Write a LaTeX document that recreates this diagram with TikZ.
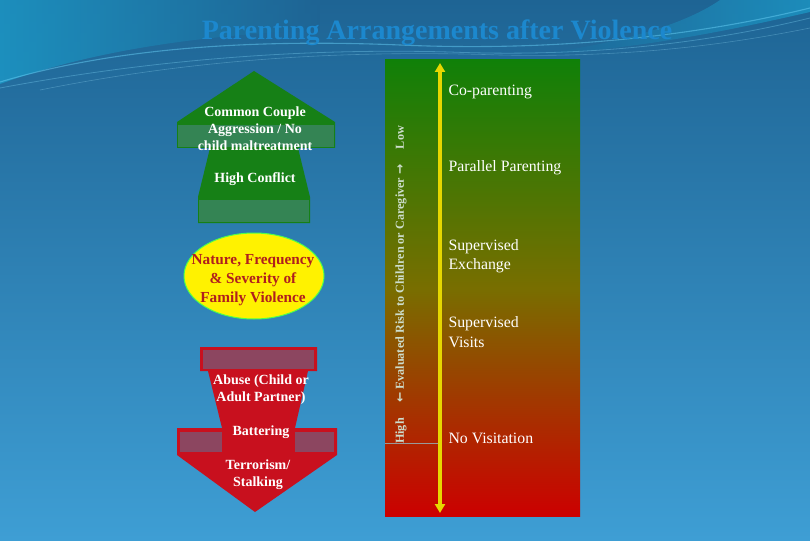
\documentclass[tikz,border=0pt]{standalone}
\usepackage{fontspec}
\setmainfont{Liberation Serif}
\newfontfamily\arrowfont{DejaVu Sans}
\usetikzlibrary{arrows.meta,shapes.geometric}
\definecolor{bgtop}{RGB}{30,100,148}
\definecolor{bgbot}{RGB}{62,158,212}
\definecolor{bgteal}{RGB}{28,150,196}
\definecolor{titleblue}{RGB}{28,136,206}
\definecolor{arrgreen}{RGB}{22,128,22}
\definecolor{bandgreen}{RGB}{52,132,84}
\definecolor{arrred}{RGB}{200,16,30}
\definecolor{bandred}{RGB}{140,70,96}
\definecolor{panelgreen}{RGB}{16,128,8}
\definecolor{panelolive}{RGB}{120,110,0}
\definecolor{panelred}{RGB}{204,0,0}
\definecolor{ellred}{RGB}{176,30,30}
\definecolor{risktext}{RGB}{205,222,205}
\definecolor{arryellow}{RGB}{230,215,0}
\tikzset{
  lbl/.style={text=white,align=center,font=\fontsize{14}{17}\selectfont\bfseries},
  rlbl/.style={text=white,align=left,anchor=west,font=\fontsize{15.8}{19.5}\selectfont},
}
\begin{document}
\begin{tikzpicture}[x=1pt,y=-1pt]
\useasboundingbox (0,0) rectangle (810,540);
% background
\shade[top color=bgtop,bottom color=bgbot] (0,0) rectangle (810,540);
\shade[left color=bgteal,right color=bgtop,opacity=0.85] (0,0) -- (0,84) .. controls (80,55) and (180,36) .. (320,30) -- (320,0) -- cycle;
\shade[left color=bgtop,right color=bgteal,opacity=0.8] (520,56) .. controls (640,50) and (740,28) .. (810,12) -- (810,0) -- (720,0) .. controls (680,28) and (600,48) .. (520,56) -- cycle;
\draw[cyan!60!white,opacity=0.5,line width=1.1] (0,82) .. controls (100,52) and (230,38) .. (400,45) .. controls (560,52) and (700,35) .. (810,8);
\draw[cyan!50!white,opacity=0.35,line width=0.8] (0,88) .. controls (150,60) and (300,48) .. (450,52) .. controls (600,58) and (720,40) .. (810,18);
\draw[cyan!40!white,opacity=0.3,line width=0.6] (40,90) .. controls (200,58) and (350,50) .. (500,55) .. controls (640,58) and (740,42) .. (810,28);
% title
\node[text=titleblue,font=\fontsize{28}{30}\selectfont\bfseries] (title) at (437,33) {Parenting Arrangements after Violence};
% green up arrow
\fill[arrgreen] (254,71) -- (335,122) -- (335,148) -- (298,148) -- (310,197) -- (310,223) -- (198,223) -- (198,197) -- (210,148) -- (177,148) -- (177,122) -- cycle;
\fill[bandgreen] (178,125) rectangle (334,147);
\fill[bandgreen] (199,200) rectangle (309,222);
\node[lbl] (cca) at (255,129) {Common Couple\\Aggression / No\\child maltreatment};
\node[lbl] (hc) at (255,179) {High Conflict};
% ellipse
\filldraw[draw=green!70!white,line width=1,fill=yellow] (254,276) ellipse [x radius=70,y radius=43];
\node[text=ellred,align=center,font=\fontsize{15.3}{19}\selectfont\bfseries] (nfs) at (253,280) {Nature, Frequency\\\& Severity of\\Family Violence};
% red down arrow
\fill[arrred] (200,347) -- (317,347) -- (317,371) -- (308,371) -- (295,428) -- (337,428) -- (337,455) -- (255,512) -- (177,455) -- (177,428) -- (222,428) -- (208,371) -- (200,371) -- cycle;
\fill[bandred] (203,350) rectangle (314,369);
\fill[bandred] (180,432) rectangle (222,452);
\fill[bandred] (295,432) rectangle (334,452);
\node[lbl] (abuse) at (261,390) {Abuse (Child or\\Adult Partner)};
\node[lbl] (batt) at (261,432) {Battering};
\node[lbl] (terr) at (258,475) {Terrorism/\\Stalking};
% right panel
\shade[top color=panelgreen,bottom color=panelred,middle color=panelolive] (385,60) rectangle (580,516);
\coordinate (hl) at (385,443);
\coordinate (hr) at (440,443);
\draw[gray!80!white,line width=0.8] (hl) -- (hr);
\coordinate (atop) at (440,63);
\coordinate (abot) at (440,513);
\draw[{Triangle[width=10,length=9]}-{Triangle[width=10,length=9]},draw=arryellow,fill=arryellow,line width=3.4] (atop) -- (abot);
\node[rotate=90,text=risktext,font=\fontsize{12.2}{14}\selectfont\bfseries] (risk) at (401,285) {High\quad\ {\arrowfont\bfseries ←} Evaluated Risk to Children or Caregiver {\arrowfont\bfseries →}\quad\ Low};
\node[rlbl] (cop) at (445,92) {Co-parenting};
\node[rlbl] (par) at (445,168) {Parallel Parenting};
\node[rlbl] (sex) at (445,256) {Supervised\\Exchange};
\node[rlbl] (svi) at (445,332) {Supervised\\Visits};
\node[rlbl] (nov) at (445,438) {No Visitation};
\end{tikzpicture}
\end{document}
